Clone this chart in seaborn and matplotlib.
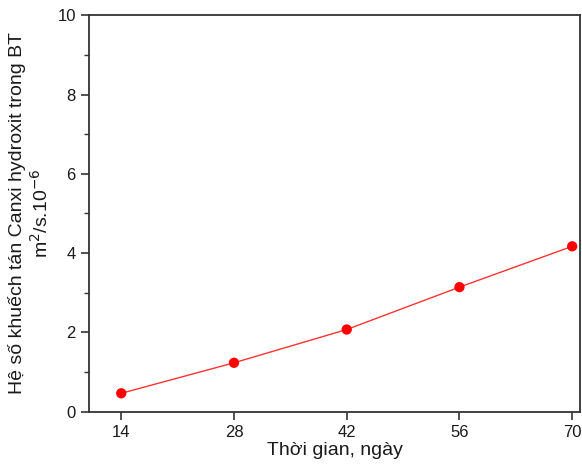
import numpy as np
import pandas as pd
import matplotlib
matplotlib.use("Agg")
import matplotlib.pyplot as plt
from matplotlib.ticker import MultipleLocator
import seaborn as sns

# data
days = [14, 28, 42, 56, 70]
coef = [0.46, 1.23, 2.07, 3.14, 4.17]

sns.set_style("ticks")
plt.rcParams["font.family"] = ["Liberation Sans", "DejaVu Sans"]

df = pd.DataFrame({"day": days, "coef": coef})

fig, ax = plt.subplots(figsize=(5.82, 4.65), dpi=100)
sns.lineplot(data=df, x="day", y="coef", color="#ff0000", linewidth=1.0,
             alpha=0.8, ax=ax)
sns.scatterplot(data=df, x="day", y="coef", color="#ff0000", s=55,
                edgecolor="none", zorder=3, ax=ax)

ax.set_xlim(10, 71)
ax.set_ylim(0, 10)
ax.set_xticks(days)
ax.yaxis.set_major_locator(MultipleLocator(2))
ax.yaxis.set_minor_locator(MultipleLocator(1))
ax.tick_params(axis="both", which="major", direction="out", length=6,
               width=1.2, labelsize=12, color="#333333", labelcolor="#1a1a1a")
ax.tick_params(axis="y", which="minor", direction="out", length=3.5,
               width=1.0, color="#333333")
for sp in ax.spines.values():
    sp.set_visible(True)
    sp.set_linewidth(1.3)
    sp.set_color("#333333")

ax.set_xlabel("Thời gian, ngày", fontsize=14, labelpad=2, color="#1a1a1a")
ax.set_ylabel("Hệ số khuếch tán Canxi hydroxit trong BT\nm$^2$/s.10$^{-6}$",
              fontsize=14, labelpad=4, color="#1a1a1a")

fig.subplots_adjust(left=0.153, right=0.997, bottom=0.115, top=0.967)
fig.savefig("out.png", dpi=100)
